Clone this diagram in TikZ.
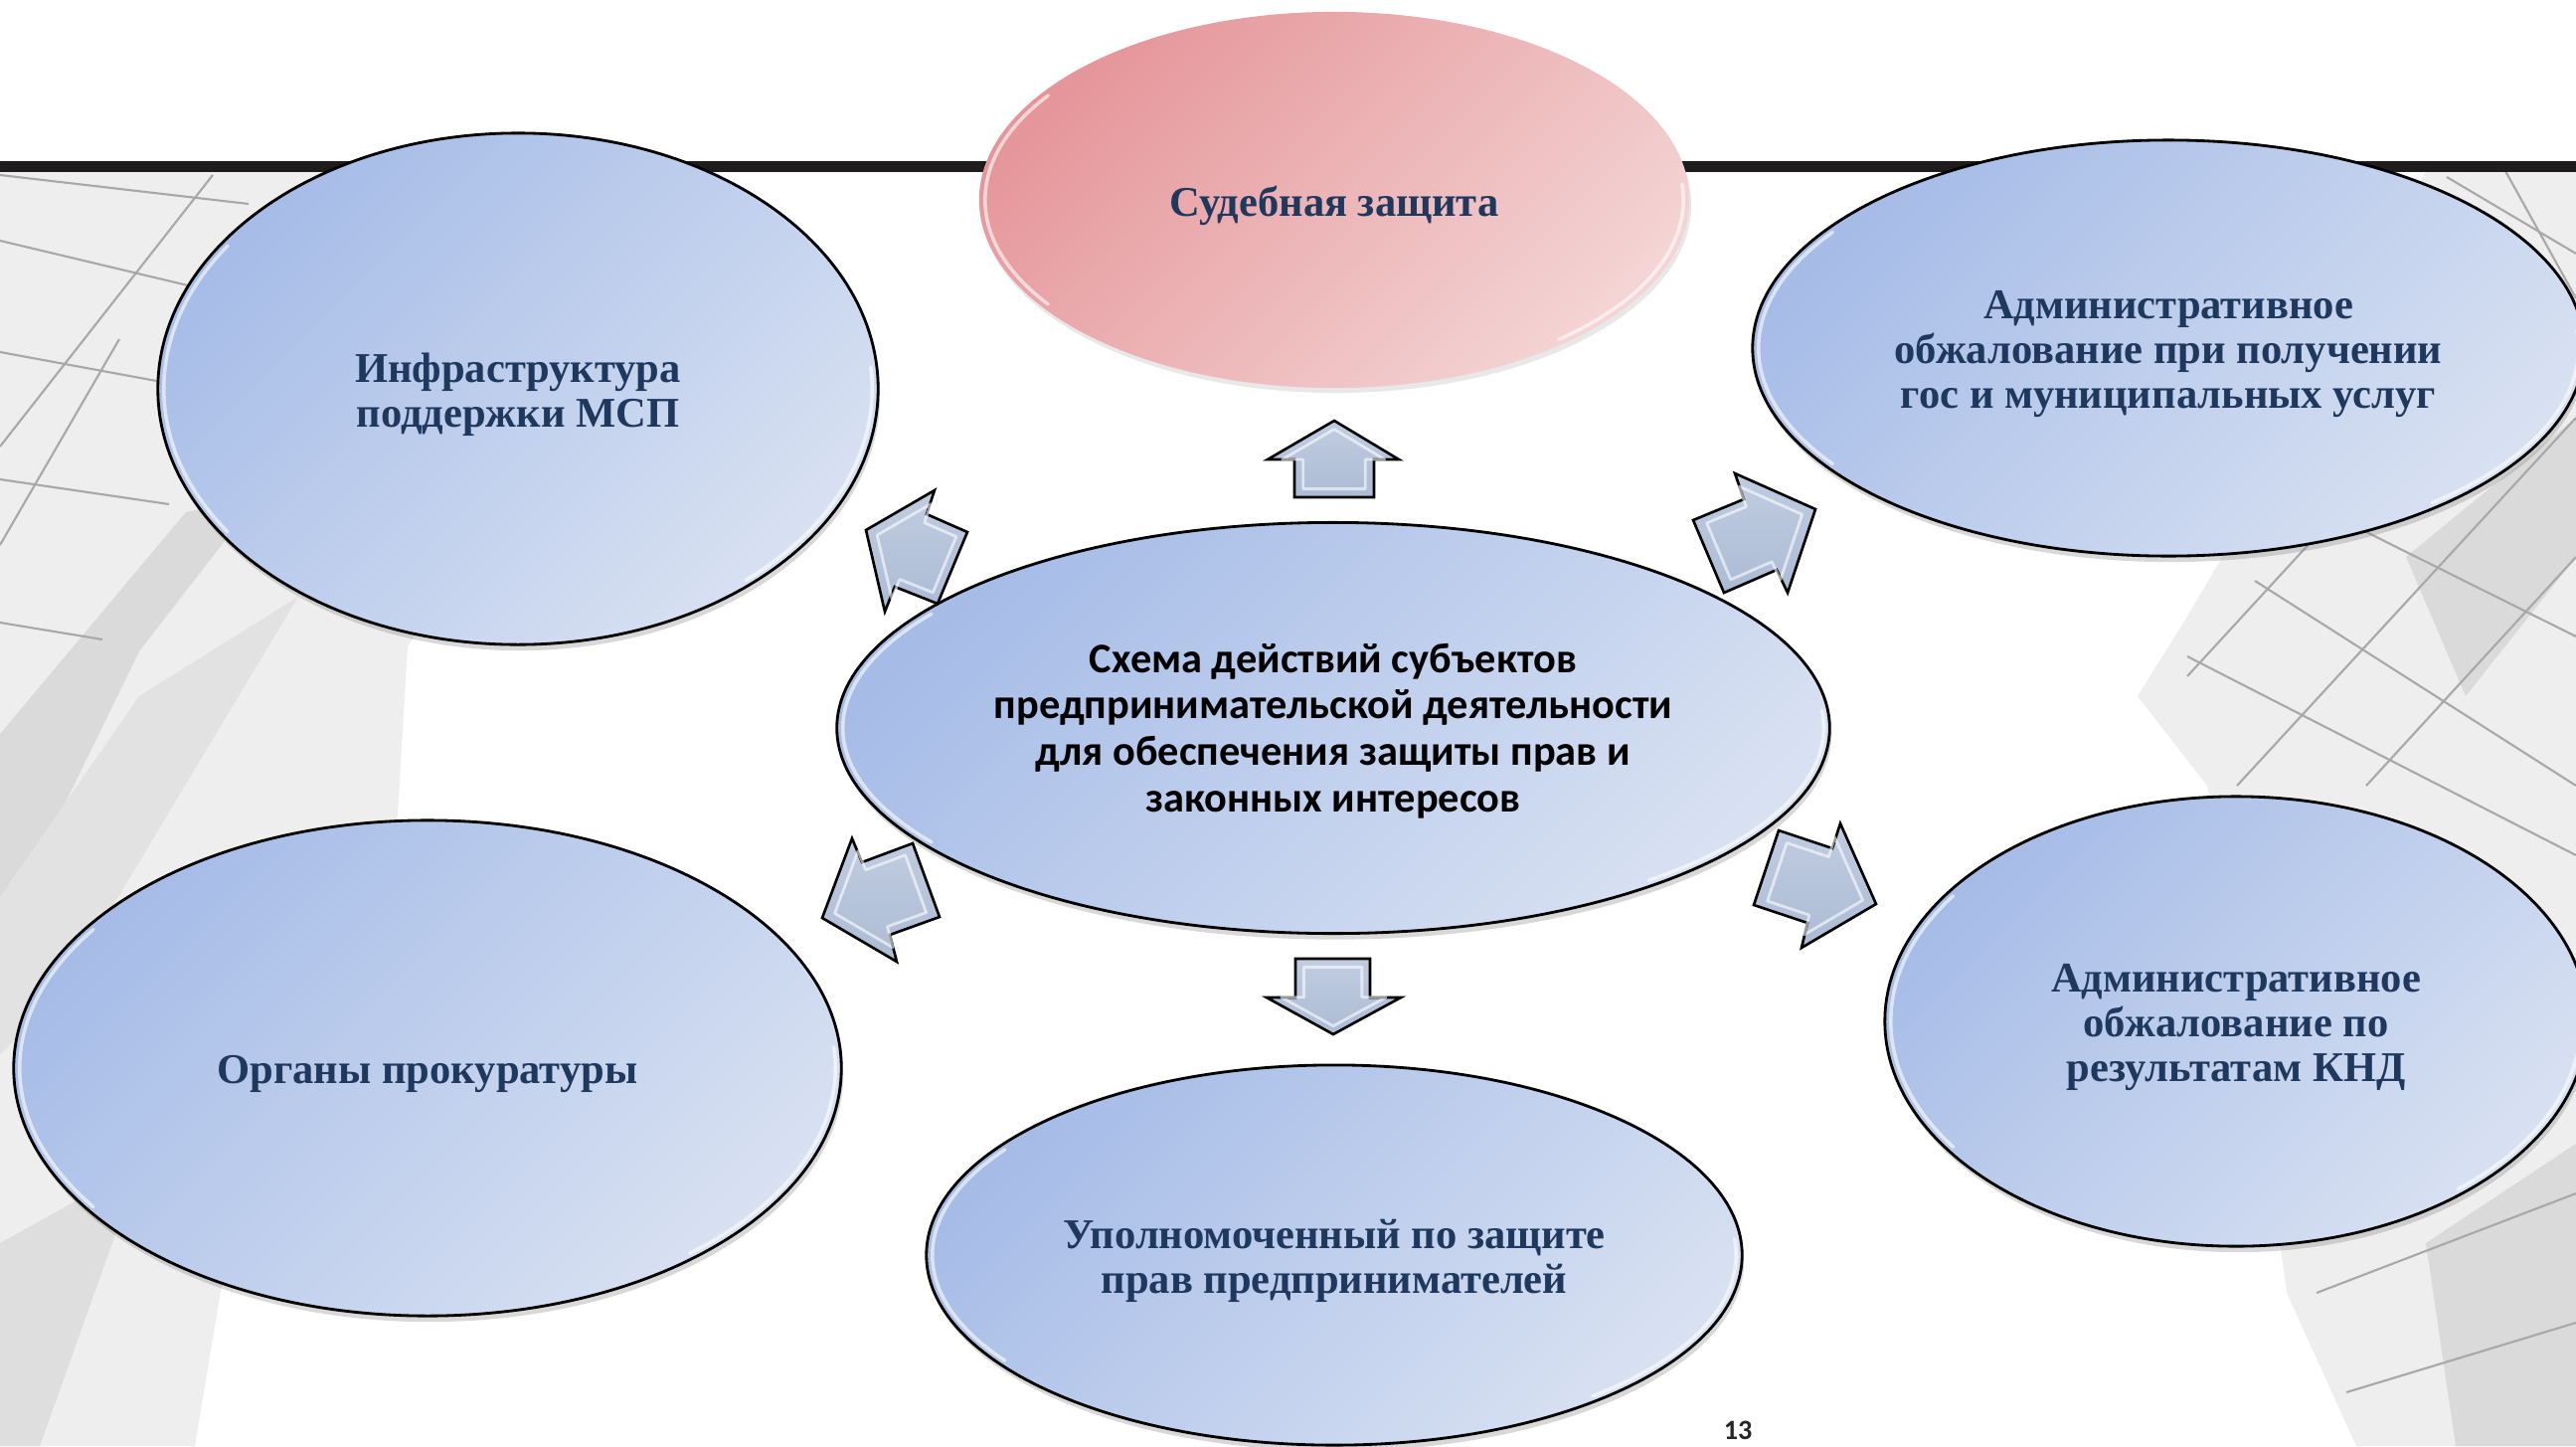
\documentclass[tikz,border=0pt]{standalone}
\usepackage{fontspec}
\setmainfont{Liberation Serif}
\newfontfamily\carl{Carlito}
\usetikzlibrary{shapes.geometric,shadows}
\definecolor{txtblue}{RGB}{31,56,94}
\definecolor{bubA}{RGB}{166,188,231}
\definecolor{bubB}{RGB}{216,225,242}
\definecolor{pinkA}{RGB}{229,150,154}
\definecolor{pinkB}{RGB}{244,212,212}
\definecolor{arrA}{RGB}{192,204,224}
\definecolor{arrB}{RGB}{172,187,213}
\definecolor{bgA}{RGB}{238,238,238}
\definecolor{bgB}{RGB}{218,218,218}
\definecolor{bgC}{RGB}{205,205,205}
\definecolor{gline}{RGB}{168,168,168}
\definecolor{topline}{RGB}{30,28,29}
\tikzset{
  bubble/.style={ellipse, draw=black, line width=0.8pt, inner sep=0pt,
    top color=bubA, bottom color=bubB, shading angle=45,
    drop shadow={shadow xshift=0.02cm, shadow yshift=-0.06cm, opacity=0.3}},
  mainbubble/.style={bubble},
  pinkbubble/.style={ellipse, inner sep=0pt, top color=pinkA, bottom color=pinkB, shading angle=45,
    drop shadow={shadow xshift=0.02cm, shadow yshift=-0.05cm, opacity=0.18}},
  bubble text/.style={align=center, inner sep=0pt, text=txtblue,
    font=\fontsize{12.1}{12.7}\selectfont\bfseries},
  pinkbubble text/.style={bubble text},
  mainbubble text/.style={align=center, inner sep=0pt, text=black, yshift=0.03cm,
    font=\carl\bfseries\fontsize{12.05}{13.3}\selectfont},
  hl/.style={draw=white, line width=1pt, opacity=0.6, line cap=round},
  blockarrow/.style={draw=black, line width=0.75pt, line join=miter, top color=arrA, bottom color=arrB},
  archl/.style={draw=white, line width=0.8pt, opacity=0.6, line join=round},
  gl/.style={draw=gline, line width=0.6pt},
}
% name, x, y, width, height, arc rx, arc ry, style, text
\newcommand\bubnode[9]{%
  \node[#8, minimum width=#4cm, minimum height=#5cm] (#1) at (#2,#3) {};
  \draw[hl] (#1.center) ++(145:#6cm and #7cm) arc[start angle=145, end angle=215, x radius=#6cm, y radius=#7cm];
  \draw[hl] (#1.center) ++(-50:#6cm and #7cm) arc[start angle=-50, end angle=5, x radius=#6cm, y radius=#7cm];
  \node[#8 text] (#1-text) at (#2,#3+6) {#9};
}
% centre x, centre y, polygon path
\newcommand\blockarr[3]{%
  \draw[blockarrow] #3;
  \begin{scope}[shift={(#1,#2)}, scale=0.78, shift={(-#1,-#2)}]
    \draw[archl] #3;
  \end{scope}
}
\begin{document}
\begin{tikzpicture}[x=0.01cm, y=-0.01cm]
\useasboundingbox (0,0) rectangle (2591,1454);
\fill[white] (0,0) rectangle (2591,1454);

% ---- background, left
\fill[bgA] (0,172) -- (560,172) -- (600,300) -- (470,560) -- (410,650) -- (400,820)
  -- (300,1000) -- (230,1250) -- (196,1454) -- (0,1454) -- cycle;
\fill[bgB] (0,738) -- (187,515) -- (260,500) -- (140,655) -- (40,860) -- (0,902) -- cycle;
\fill[bgB!60!bgA] (0,902) -- (140,700) -- (300,600) -- (180,800) -- (60,1000) -- (0,1060) -- cycle;
\fill[bgC!50!bgA] (0,1250) -- (90,1200) -- (120,1230) -- (40,1454) -- (0,1454) -- cycle;
\draw[gl] (0,176) -- (250,205);
\draw[gl] (0,242) -- (210,292);
\draw[gl] (0,354) -- (179,387);
\draw[gl] (0,482) -- (170,507);
\draw[gl] (0,626) -- (103,643);
\draw[gl] (214,176) -- (0,449);
\draw[gl] (120,341) -- (0,548);

% ---- background, right
\fill[bgA] (2591,172) -- (2440,172) -- (2300,450) -- (2200,620) -- (2150,700) -- (2220,790)
  -- (2260,1000) -- (2300,1300) -- (2370,1454) -- (2591,1454) -- cycle;
\fill[bgB] (2420,560) -- (2591,420) -- (2591,560) -- (2480,700) -- cycle;
\fill[bgB] (2440,1250) -- (2591,1150) -- (2591,1454) -- (2470,1454) -- cycle;
\draw[gl] (2268,584) -- (2591,790);
\draw[gl] (2200,660) -- (2591,860);
\draw[gl] (2350,520) -- (2591,640);
\draw[gl] (2250,790) -- (2591,420);
\draw[gl] (2380,790) -- (2591,560);
\draw[gl] (2200,680) -- (2430,430);
\draw[gl] (2461,178) -- (2591,255);
\draw[gl] (2520,172) -- (2591,300);
\draw[gl] (2330,1300) -- (2591,1200);
\draw[gl] (2360,1400) -- (2591,1330);

% ---- top rule
\draw[topline, line width=0.11cm] (0,167) -- (2591,167);

% ---- ellipses
\bubnode{jud}{1342}{201}{7.14}{3.78}{3.51}{1.83}{pinkbubble}{Судебная защита}
\bubnode{infra}{521}{391}{7.24}{5.14}{3.56}{2.51}{bubble}{Инфраструктура\\поддержки МСП}
\bubnode{adm1}{2181}{350}{8.36}{4.18}{4.12}{2.03}{bubble}{Административное\\обжалование при получении\\гос и муниципальных услуг}
\bubnode{main}{1341}{732}{9.98}{4.13}{4.93}{2.00}{mainbubble}{Схема действий субъектов\\предпринимательской деятельности\\для обеспечения защиты прав и\\законных интересов}
\bubnode{prok}{430}{1074}{8.32}{4.98}{4.10}{2.43}{bubble}{Органы прокуратуры}
\bubnode{upol}{1342}{1262}{8.20}{3.82}{4.04}{1.85}{bubble}{Уполномоченный по защите\\прав предпринимателей}
\bubnode{adm2}{2249}{1027}{7.06}{4.52}{3.47}{2.20}{bubble}{Административное\\обжалование по\\результатам КНД}

% ---- block arrows
\blockarr{1342}{462}{(1342,423) -- (1407,462) -- (1382,462) -- (1382,500) -- (1302,500) -- (1302,462) -- (1275,462) -- cycle}
\blockarr{1341}{1002}{(1303,964) -- (1378,964) -- (1378,1003) -- (1409,1003) -- (1341,1040) -- (1274,1003) -- (1303,1003) -- cycle}
\blockarr{922}{556}{(940,493) -- (932,517) -- (973,535) -- (943,607) -- (900,590) -- (890,615) -- (871,533) -- cycle}
\blockarr{1765}{536}{(1745,476) -- (1754,502) -- (1703,523) -- (1734,596) -- (1787,573) -- (1798,596) -- (1826,512) -- cycle}
\blockarr{884}{902}{(857,843) -- (867,867) -- (918,848) -- (945,922) -- (895,940) -- (902,967) -- (827,923) -- cycle}
\blockarr{1826}{892}{(1789,835) -- (1843,853) -- (1851,828) -- (1887,909) -- (1812,953) -- (1818,928) -- (1764,910) -- cycle}

% ---- page number
\node[font=\carl\bfseries\fontsize{8}{9}\selectfont, text=black!85] (pg) at (1748,1438) {13};
\end{tikzpicture}
\end{document}
